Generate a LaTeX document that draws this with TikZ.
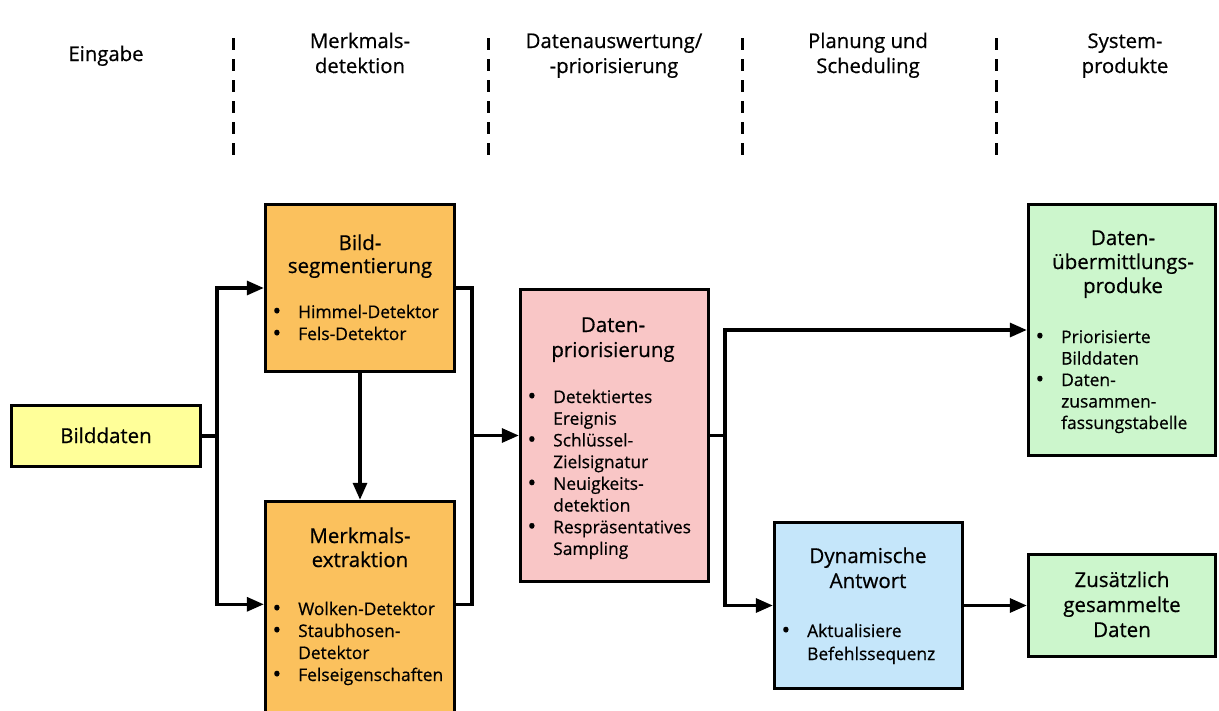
\documentclass[tikz,border=0pt]{standalone}
\usepackage{fontspec}
\setmainfont{Open Sans}[FakeBold=0.6]
\usetikzlibrary{arrows.meta}

% colours of the boxes
\definecolor{inputfill}{HTML}{FFFF99}
\definecolor{detectfill}{HTML}{FBC15D}
\definecolor{priofill}{HTML}{F9C6C6}
\definecolor{planfill}{HTML}{C5E6FA}
\definecolor{prodfill}{HTML}{CCF6CC}

% centred block of lines, baseline = first line
\newcommand\clines[2]{\vtop{\baselineskip=#1\lineskiplimit=-20pt\lineskip=0pt\halign{\hfil##\hfil\cr #2\crcr}}}
% left-aligned block of lines, baseline = first line
\newcommand\llines[2]{\vtop{\baselineskip=#1\lineskiplimit=-20pt\lineskip=0pt\halign{##\hfil\cr #2\crcr}}}
% bullet hanging left of the item text
\newcommand\bul{\llap{\smash{\raisebox{-1pt}{\fontsize{23}{23}\selectfont\textbullet}}\hskip 17pt}}

\begin{document}
\begin{tikzpicture}[x=1pt,y=-1pt,
  box/.style={draw=black,line width=3.4pt,rectangle,inner sep=0pt},
  conn/.style={line width=3.2pt,line join=miter},
  arr/.style={conn,-{Triangle[length=17pt,width=14pt]}},
  sep/.style={line width=3pt,dash pattern=on 12pt off 9pt},
  head/.style={inner sep=0pt,anchor=base,font=\fontsize{20.3}{26}\selectfont},
  title/.style={inner sep=0pt,anchor=base,font=\fontsize{20.5}{24}\selectfont},
  items/.style={inner sep=0pt,anchor=base west,font=\fontsize{17.4}{22}\selectfont}]

\useasboundingbox (0,0) rectangle (1219,710);

% column separators
\foreach \xx/\nm in {233/s1,488/s2,742/s3,996/s4}{
  \coordinate (\nm top) at (\xx,38);
  \coordinate (\nm bot) at (\xx,160);
  \draw[sep] (\nm top) -- (\nm bot);
}

% column headings
\node[head] (h1) at (106,61) {Eingabe};
\node[head] (h2) at (360,48) {\clines{25pt}{Merkmals-\cr detektion}};
\node[head] (h3) at (614,48) {\clines{25pt}{Datenauswertung/\cr -priorisierung}};
\node[head] (h4) at (868,48) {\clines{25pt}{Planung und\cr Scheduling}};
\node[head] (h5) at (1125,48) {\clines{25pt}{System-\cr produkte}};

% boxes
\node[box,fill=inputfill,minimum width=189pt,minimum height=61pt] (bild) at (106,436) {};
\node[box,fill=detectfill,minimum width=189pt,minimum height=167pt] (seg) at (360,288) {};
\node[box,fill=detectfill,minimum width=189pt,minimum height=227pt] (ext) at (360,615) {};
\node[box,fill=priofill,minimum width=188pt,minimum height=292pt] (prio) at (614.5,435.5) {};
\node[box,fill=prodfill,minimum width=187pt,minimum height=251pt] (ueber) at (1122,330) {};
\node[box,fill=planfill,minimum width=188pt,minimum height=166pt] (dyn) at (868.5,605.5) {};
\node[box,fill=prodfill,minimum width=187pt,minimum height=102pt] (zus) at (1122,605.5) {};

% box texts
\node[title] (bildT) at (106,443) {Bilddaten};

\node[title] (segT) at (360,250) {\clines{23pt}{Bild-\cr segmentierung}};
\node[items] (segL) at (298,318) {\llines{22pt}{\bul Himmel-Detektor\cr \bul Fels-Detektor}};

\node[title] (extT) at (360,543) {\clines{24pt}{Merkmals-\cr extraktion}};
\node[items] (extL) at (298,615) {\llines{22pt}{\bul Wolken-Detektor\cr \bul Staubhosen-\cr Detektor\cr \bul Felseigenschaften}};

\node[title] (prioT) at (613,332) {\clines{25pt}{Daten-\cr priorisierung}};
\node[items] (prioL) at (553,403) {\llines{21.7pt}{\bul Detektiertes\cr Ereignis\cr \bul Schlüssel-\cr Zielsignatur\cr \bul Neuigkeits-\cr detektion\cr \bul Respräsentatives\cr Sampling}};

\node[title] (ueberT) at (1123,245) {\clines{24pt}{Daten-\cr übermittlungs-\cr produke}};
\node[items] (ueberL) at (1061,343) {\llines{21.5pt}{\bul Priorisierte\cr Bilddaten\cr \bul Daten-\cr zusammen-\cr fassungstabelle}};

\node[title] (dynT) at (868,563) {\clines{25pt}{Dynamische\cr Antwort}};
\node[items] (dynL) at (807,637) {\llines{23pt}{\bul Aktualisiere\cr Befehlssequenz}};

\node[title] (zusT) at (1122,587) {\clines{25pt}{Zusätzlich\cr gesammelte\cr Daten}};

% branch points
\coordinate (sL) at (217,436);
\coordinate (sR) at (472,435.5);
\coordinate (pR) at (725,435.5);
\coordinate (extIn) at ([yshift=-104.5pt]ext.north west);
\coordinate (extOut) at ([yshift=-104.5pt]ext.north east);

% connectors
\draw[conn] (bild.east) -- (sL);
\draw[arr] (sL) |- (seg.west);
\draw[arr] (sL) |- (extIn);
\draw[arr] (seg.south) -- (ext.north);
\draw[conn] (seg.east) -| (sR);
\draw[conn] (extOut) -| (sR);
\draw[arr] (sR) -- (prio.west);
\draw[conn] (prio.east) -- (pR);
\draw[arr] (pR) |- (ueber.west);
\draw[arr] (pR) |- (dyn.west);
\draw[arr] (dyn.east) -- (zus.west);
\end{tikzpicture}
\end{document}
